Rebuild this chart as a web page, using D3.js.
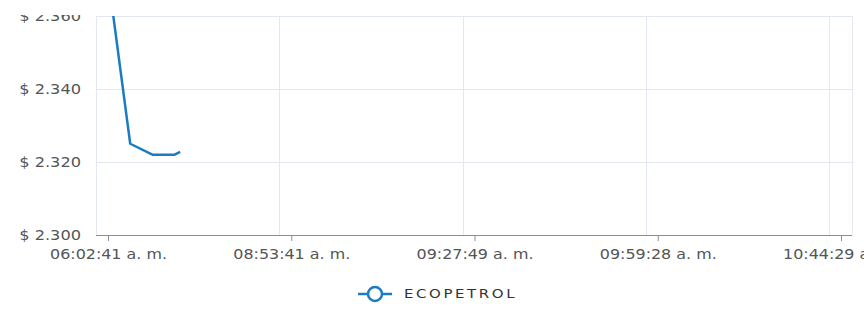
<!DOCTYPE html>
<html><head><meta charset="utf-8">
<script src="https://cdn.jsdelivr.net/npm/d3@7"></script>
<style>
html,body{margin:0;padding:0;background:#fff;}
svg{display:block;}
text{font-family:"DejaVu Sans",sans-serif;}
</style></head>
<body>
<svg id="chart" width="864" height="312"></svg>
<script>
// ---- data ----
const seriesName = "ECOPETROL";
const tickLabels = ["06:02:41 a. m.", "08:53:41 a. m.", "09:27:49 a. m.", "09:59:28 a. m.", "10:44:29 a. m."];
const tickIndex = [0, 33, 66, 99, 132];
const pointIndex = [0, 4, 8, 12, 13];
const pointValues = [2371, 2325, 2322, 2322, 2322.8];
const yTicks = [2300, 2320, 2340, 2360];

// ---- layout ----
const svg = d3.select("#chart");
const left = 96, right = 852, bottom = 235, topCut = 15;
const x = d3.scaleLinear().domain([0, 132]).range([108, 841]);
const y = d3.scaleLinear().domain([2300, 2380]).range([bottom, -57]);
const gridColor = "#e2e7f1";
const lineColor = "#1c7cc3";
const fmt = v => "$ " + d3.format(",")(v).replace(/,/g, ".");

const defs = svg.append("defs");
defs.append("clipPath").attr("id","clip").append("rect")
  .attr("x", left).attr("y", y(2360)).attr("width", right-left).attr("height", bottom - y(2360));
defs.append("clipPath").attr("id","topclip").append("rect")
  .attr("x", 0).attr("y", topCut).attr("width", 864).attr("height", 312 - topCut);

// horizontal grid
const g = svg.append("g");
g.selectAll(".hg").data(yTicks.filter(v => v > 2300)).join("line")
  .attr("x1", left).attr("x2", right)
  .attr("y1", d => Math.round(y(d)) + 0.5).attr("y2", d => Math.round(y(d)) + 0.5)
  .attr("stroke", gridColor).attr("stroke-width", 1);
// vertical grid (offset left of ticks)
g.selectAll(".vg").data(tickIndex).join("line")
  .attr("x1", d => Math.round(x(d) - 12) + 0.5).attr("x2", d => Math.round(x(d) - 12) + 0.5)
  .attr("y1", y(2360)).attr("y2", bottom)
  .attr("stroke", gridColor).attr("stroke-width", 1);
g.append("line").attr("x1", right+0.5).attr("x2", right+0.5).attr("y1", y(2360)).attr("y2", bottom)
  .attr("stroke", gridColor);

// y labels
svg.append("g").attr("clip-path", "url(#topclip)")
  .selectAll(".yl").data(yTicks).join("text")
  .attr("transform", d => `translate(81,${y(d)}) scale(1.2,1)`)
  .attr("dy", "0.36em")
  .attr("text-anchor", "end").attr("fill", "#555")
  .attr("font-size", 13.5).text(fmt);

// x axis
const xAxis = d3.axisBottom(x).tickValues(tickIndex).tickSize(6).tickPadding(8)
  .tickFormat((d, i) => tickLabels[i]);
const ax = svg.append("g").attr("transform", `translate(0,${bottom})`).call(xAxis);
ax.select(".domain").attr("d", `M${left},0.5H${right}`).attr("stroke", "#8a8f96");
ax.selectAll(".tick line").attr("stroke", "#8a8f96");
ax.selectAll(".tick text").attr("fill", "#555").attr("font-size", 13.5)
  .attr("font-family", "DejaVu Sans, sans-serif")
  .attr("transform", "scale(1.18,1)");

// line
const data = pointIndex.map((d, i) => ({i: d, v: pointValues[i]}));
svg.append("path").datum(data)
  .attr("clip-path", "url(#clip)")
  .attr("fill", "none").attr("stroke", lineColor).attr("stroke-width", 2.5)
  .attr("stroke-linejoin", "round")
  .attr("d", d3.line().x(d => x(d.i)).y(d => y(d.v)));

// legend
const lg = svg.append("g").attr("transform", "translate(375,294)");
lg.append("line").attr("x1", -17).attr("x2", 17).attr("stroke", lineColor).attr("stroke-width", 2.5);
lg.append("circle").attr("r", 7).attr("fill", "#fff").attr("stroke", lineColor).attr("stroke-width", 2.5);
lg.append("text").attr("transform", "translate(29,0) scale(1.3,1)").attr("dy", "0.36em").attr("fill", "#333")
  .attr("font-size", 11.5).attr("letter-spacing", 2).text(seriesName);
</script>
</body></html>
